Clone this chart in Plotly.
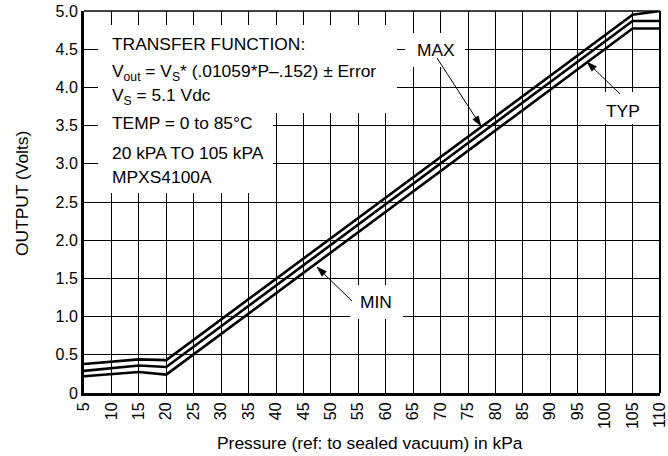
import math
import plotly.graph_objects as go

# ---- data ----
pressure_kpa = [5, 15, 20, 105, 110]
out_max = [0.38, 0.44, 0.43, 4.95, 5.00]
out_typ = [0.29, 0.36, 0.34, 4.87, 4.87]
out_min = [0.22, 0.275, 0.24, 4.77, 4.77]

x_tick_vals = [5, 10, 15, 20, 25, 30, 35, 40, 45, 50, 55, 60, 65, 70, 75, 80,
               85, 90, 95, 100, 105, 110]
x_tick_text = [str(v) for v in x_tick_vals]
y_tick_vals = [0, 0.5, 1.0, 1.5, 2.0, 2.5, 3.0, 3.5, 4.0, 4.5, 5.0]
y_tick_text = ["0", "0.5", "1.0", "1.5", "2.0", "2.5", "3.0", "3.5", "4.0", "4.5", "5.0"]

info_lines = [
    "TRANSFER FUNCTION:",
    "V<sub>out</sub> = V<sub>S</sub>* (.01059*P\u2013.152) \u00b1 Error",
    "V<sub>S</sub> = 5.1 Vdc",
    "TEMP = 0 to 85\u00b0C",
    "20 kPA TO 105 kPA",
    "MPXS4100A",
]
curve_labels = ["MAX", "TYP", "MIN"]

FONT = "Liberation Sans, Arial, sans-serif"
FS = 17.4

# pixel helpers for placing decorations (plot area 84..660 x 11..393)
W, H = 668, 456
L, R, T, B = 84, 660, 11, 393
def px2x(px):
    return 5 + (px - L) * 105.0 / (R - L)
def px2y(py):
    return (B - py) * 5.0 / (B - T)

fig = go.Figure()
for ys in (out_max, out_typ, out_min):
    fig.add_trace(go.Scatter(x=pressure_kpa, y=ys, mode="lines",
                             line=dict(color="black", width=2.6),
                             showlegend=False, hoverinfo="skip"))

shapes = []
def white_box(x0, y0, x1, y1):
    shapes.append(dict(type="rect", xref="x", yref="y",
                       x0=px2x(x0), x1=px2x(x1), y0=px2y(y0), y1=px2y(y1),
                       fillcolor="white", line=dict(width=0), layer="between"))

white_box(98, 25, 397, 113)
white_box(98, 25, 273, 193)
white_box(405, 33, 465, 67)
white_box(601, 92, 655, 124)
white_box(350, 285, 403, 319)

# top and right border
shapes.append(dict(type="line", xref="paper", yref="paper", x0=0, x1=1, y0=1, y1=1,
                   line=dict(color="black", width=1.6)))
shapes.append(dict(type="line", xref="paper", yref="paper", x0=1, x1=1, y0=0, y1=1,
                   line=dict(color="black", width=2)))

# leader arrows (tail pixel -> head pixel)
def arrow(tx, ty, hx, hy, length=10, half=3.3):
    shapes.append(dict(type="line", xref="x", yref="y",
                       x0=px2x(tx), y0=px2y(ty), x1=px2x(hx), y1=px2y(hy),
                       line=dict(color="black", width=1)))
    d = math.hypot(hx - tx, hy - ty)
    ux, uy = (hx - tx) / d, (hy - ty) / d
    bx, by = hx - length * ux, hy - length * uy
    nx, ny = -uy, ux
    pts = [(hx, hy), (bx + half * nx, by + half * ny), (bx - half * nx, by - half * ny)]
    path = "M " + " L ".join(f"{px2x(px)},{px2y(py)}" for px, py in pts) + " Z"
    shapes.append(dict(type="path", xref="x", yref="y", path=path,
                       fillcolor="black", line=dict(color="black", width=0.5)))

arrow(437, 58, 481, 126)
arrow(620, 94, 587, 62)
arrow(352, 301, 317, 267)

annotations = []
line_centers = [43.5, 72.5, 96, 123, 153, 176.5]
for txt, cy in zip(info_lines, line_centers):
    annotations.append(dict(x=px2x(110), y=px2y(cy), xref="x", yref="y",
                            text=txt, showarrow=False, xanchor="left", yanchor="middle",
                            font=dict(family=FONT, size=FS, color="black")))

for txt, (cx, cy) in zip(curve_labels, ((435.5, 50), (623, 110.5), (376, 301.5))):
    annotations.append(dict(x=px2x(cx), y=px2y(cy), xref="x", yref="y",
                            text=txt, showarrow=False, xanchor="center", yanchor="middle",
                            font=dict(family=FONT, size=FS, color="black")))

annotations.append(dict(x=(22 - L) / (R - L), y=(B - 194) / (B - T), xref="paper", yref="paper",
                        text="OUTPUT (Volts)", showarrow=False, textangle=-90,
                        xanchor="center", yanchor="middle",
                        font=dict(family=FONT, size=FS, color="black")))
annotations.append(dict(x=(370 - L) / (R - L), y=(B - 443) / (B - T), xref="paper", yref="paper",
                        text="Pressure (ref: to sealed vacuum) in kPa", showarrow=False,
                        xanchor="center", yanchor="middle",
                        font=dict(family=FONT, size=FS, color="black")))

fig.update_layout(
    width=W, height=H, autosize=False,
    margin=dict(l=L, r=W - R, t=T, b=H - B, pad=0),
    paper_bgcolor="white", plot_bgcolor="white",
    shapes=shapes, annotations=annotations,
    xaxis=dict(range=[5, 110], tickmode="array", tickvals=x_tick_vals, ticktext=x_tick_text,
               tickangle=-90, showgrid=True, gridcolor="black", gridwidth=1.3,
               zeroline=False, showline=True, linecolor="black", linewidth=3,
               ticks="", ticklabeloverflow="allow",
               tickfont=dict(family=FONT, size=16, color="black"),
               fixedrange=True, automargin=False),
    yaxis=dict(range=[0, 5], tickmode="array", tickvals=y_tick_vals, ticktext=y_tick_text,
               showgrid=True, gridcolor="black", gridwidth=1.3,
               zeroline=False, showline=True, linecolor="black", linewidth=3,
               ticks="", ticklabeloverflow="allow",
               tickfont=dict(family=FONT, size=16, color="black"),
               fixedrange=True, automargin=False),
)

fig.write_html("out.html", config={"displayModeBar": False},
               post_script="document.body.style.margin='0';document.body.style.overflow='hidden';")
